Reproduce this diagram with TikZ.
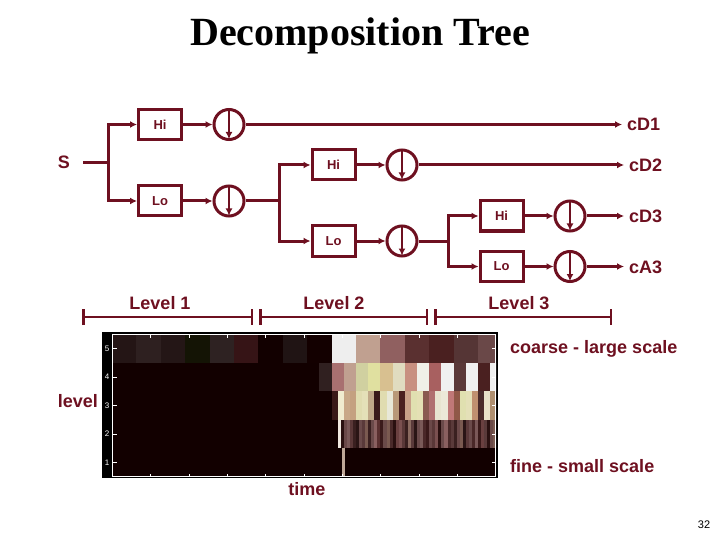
\documentclass[tikz,border=0pt]{standalone}
\usepackage{fontspec}
\setmainfont{Liberation Serif}
\setsansfont{Liberation Sans}
\usetikzlibrary{arrows.meta}
\usetikzlibrary{calc}

\definecolor{maroon}{HTML}{6E1020}
\definecolor{mapbg}{HTML}{120000}

\begin{document}
\begin{tikzpicture}[x=1pt, y=-1pt,
	>={Latex[length=7pt,width=7pt]},
	wire/.style={draw=maroon, line width=3pt},
	filt/.style={draw=maroon, line width=3pt, minimum width=43pt, minimum height=30pt, inner sep=0pt, text=maroon, font=\sffamily\bfseries\fontsize{13}{15}\selectfont},
	down/.style={draw=maroon, line width=3pt, circle, minimum size=30pt, inner sep=0pt},
	lbl/.style={text=maroon, font=\sffamily\bfseries\fontsize{18}{20}\selectfont, inner sep=0pt, text height=13pt, text depth=0pt},
	]
	\useasboundingbox (0,0) rectangle (720,540);

	% height of one level row in the coefficient map
	\def\rh{28.6}

	%macro for the down sampling arrow inside a circle
	\newcommand{\dnArrow}[1]{
		\draw[wire, line width=2.5pt, ->, shorten <=1pt, shorten >=2pt] (#1.north) -- (#1.south);
	}
	%macro for one row of coloured cells: start x, cell width, top y, colours
	\newcommand{\mapRow}[4]{
		\foreach \c [count=\i from 0] in {#4} {
			\definecolor{cellc}{HTML}{\c}
			\fill[cellc] ({#1+\i*#2},#3) rectangle ++({#2+0.3},\rh);
		}
	}

	% title
	\node[font=\bfseries\fontsize{40}{44}\selectfont, anchor=base] (title) at (360,46) {Decomposition Tree};

	% input signal and first split
	\node[lbl] (S) at (64,162.5) {S};
	\coordinate (jA) at (108,162.5);
	\node[filt] (hiA) at (160,124.5) {Hi};
	\node[filt] (loA) at (160,201) {Lo};
	\node[down] (dnHiA) at (229,124.5) {};
	\node[down] (dnLoA) at (229,201) {};

	% second split
	\coordinate (jB) at (279,201);
	\node[filt] (hiB) at (333.5,165) {Hi};
	\node[filt] (loB) at (333.5,241) {Lo};
	\node[down] (dnHiB) at (402,165) {};
	\node[down] (dnLoB) at (402,241) {};

	% third split
	\coordinate (jC) at (448,241);
	\node[filt] (hiC) at (501.5,216) {Hi};
	\node[filt] (loC) at (501.5,266.5) {Lo};
	\node[down] (dnHiC) at (570,216) {};
	\node[down] (dnLoC) at (570,266.5) {};

	% outputs
	\node[lbl, anchor=west] (cD1) at (627,124.5) {cD1};
	\node[lbl, anchor=west] (cD2) at (629,165) {cD2};
	\node[lbl, anchor=west] (cD3) at (629,216) {cD3};
	\node[lbl, anchor=west] (cA3) at (629,266.5) {cA3};

	% wiring
	\draw[wire, shorten <=13pt] (S) -- (jA);
	\draw[wire, ->] (jA) |- (hiA);
	\draw[wire, ->] (jA) |- (loA);
	\draw[wire, ->] (hiA) -- (dnHiA);
	\draw[wire, ->] (loA) -- (dnLoA);
	\draw[wire] (dnLoA) -- (jB);
	\draw[wire, ->] (jB) |- (hiB);
	\draw[wire, ->] (jB) |- (loB);
	\draw[wire, ->] (hiB) -- (dnHiB);
	\draw[wire, ->] (loB) -- (dnLoB);
	\draw[wire] (dnLoB) -- (jC);
	\draw[wire, ->] (jC) |- (hiC);
	\draw[wire, ->] (jC) |- (loC);
	\draw[wire, ->] (hiC) -- (dnHiC);
	\draw[wire, ->] (loC) -- (dnLoC);
	\draw[wire, ->, shorten >=5pt] (dnHiA) -- (dnHiA -| cD1.west);
	\draw[wire, ->, shorten >=5pt] (dnHiB) -- (dnHiB -| cD2.west);
	\draw[wire, ->, shorten >=5pt] (dnHiC) -- (dnHiC -| cD3.west);
	\draw[wire, ->, shorten >=5pt] (dnLoC) -- (dnLoC -| cA3.west);

	% arrows inside the down samplers
	\foreach \d in {dnHiA,dnLoA,dnHiB,dnLoB,dnHiC,dnLoC} {
		\dnArrow{\d}
	}

	% level bars
	\foreach \a/\b in {82/253,259/428,434/612}
		\draw[wire, line width=2.5pt, {Bar[width=16pt]}-{Bar[width=16pt]}] (\a,317) -- (\b,317);
	\node[lbl] (lev1) at (160,303) {Level 1};
	\node[lbl] (lev2) at (334,303) {Level 2};
	\node[lbl] (lev3) at (519,303) {Level 3};

	%COEFFICIENT MAP BELOW THE TREE
	\fill[black] (102,332) rectangle (498,478);
	\fill[mapbg] (112,334) rectangle (496,477);
	\begin{scope}
		\clip (112,334) rectangle (496,477);
		% level 5
		\mapRow{112}{24.4}{334}{241515,2E2020,241616,141405,2E2222,361416,120000,201414,130000,EEEEEE,C0A090,906060,5A3030,4A2020,553535,6A4848}
		% level 4
		\mapRow{319.4}{12.2}{362.6}{302020,A87070,C0A090,D0D0A0,E0E0A0,D8C090,E0DCC0,C89080,F0F0E8,A86060,F0F0F0,5A3838,F0F0F0,4A2020,F0F0F0}
		% level 3
		\mapRow{331.6}{6.1}{391.2}{3A1A18,F0ECD0,C8A888,C4A080,E0DCB0,E4E0B8,C0A888,3A1A1A,E0DCB0,E8E8D8,B89878,4A2020,C8A088,E0E0B0,E4E0B4,8A5A50,B07070,E8E4D0,ECE8D8,C07878,905848,E0E0B0,E4E0B8,C09070,4A2A2A,E8E0C8,B09070}
		% level 2
		\mapRow{337.7}{3.05}{419.8}{F0E8E0,2A1010,6A4848,7A5858,5A3838,3A2020,2A1515,6A4A4A,5A3A3A,7A5A50,3A2020,6A4A4A,8A6060,5A3030,3A1A1A,6A4A48,7A5A50,4A2A2A,2A1010,6A4040,7A5050,5A3838,3A2020,8A6A60,5A3A3A,2A1515,6A4A4A,7A5A58,4A2828,3A1A1A,6A4848,5A3838,7A5050,2A1010,6A4A4A,8A6060,4A2A2A,5A3A3A,3A2020,6A4848,7A5A50,2A1515,5A3838,6A4A4A,4A2828,7A5858,3A1A1A,6A4040,5A3A3A,2A1010,6A4A48,7A5A50}
		% level 1 spike
		\fill[fill={rgb,255:red,192;green,168;blue,152}] (341.5,448.4) rectangle (344.5,477);
	\end{scope}
	% axes of the map
	\draw[white, line width=0.7pt] (112.5,334.5) rectangle (495.5,476.5);
	\foreach \k in {0,...,10} {
		\draw[white, line width=0.7pt] ({112.5+\k*38.3},334.5) -- ++(0,3);
		\draw[white, line width=0.7pt] ({112.5+\k*38.3},476.5) -- ++(0,-3);
	}
	\foreach \v [count=\r from 0] in {5,4,3,2,1} {
		\draw[white, line width=0.7pt] (112.5,{348.3+\r*\rh}) -- ++(4,0);
		\draw[white, line width=0.7pt] (495.5,{348.3+\r*\rh}) -- ++(-4,0);
		\node[white, font=\sffamily\fontsize{8}{9}\selectfont, inner sep=0pt] at (107,{348.3+\r*\rh}) {\v};
	}

	% axis labels
	\node[lbl, anchor=east] (lvl) at (98,401) {level};
	\node[lbl] (time) at (307,488.5) {time};
	\node[lbl, anchor=west] (coarse) at (510,347) {coarse - large scale};
	\node[lbl, anchor=west] (fine) at (510,466) {fine - small scale};

	% page number
	\node[font=\sffamily\fontsize{11}{12}\selectfont] (pg) at (704,525) {32};

\end{tikzpicture}
\end{document}
